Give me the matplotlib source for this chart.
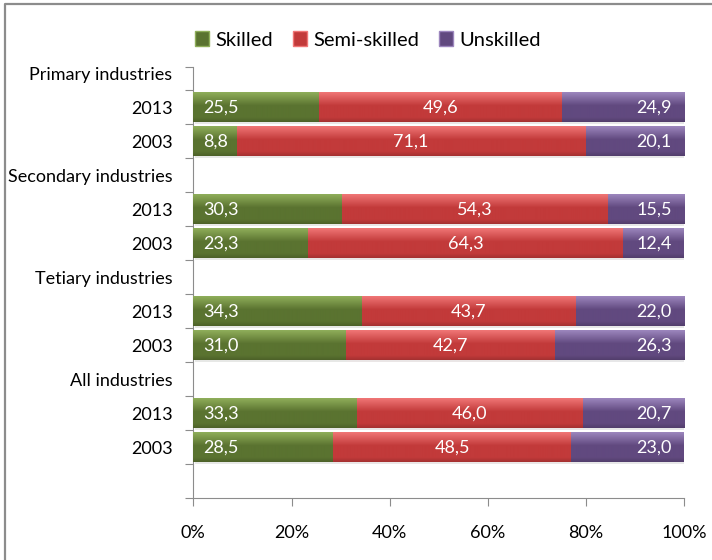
import matplotlib.pyplot as plt
import numpy as np
from matplotlib.patches import Patch
from matplotlib.lines import Line2D
from matplotlib import patheffects as pe
from matplotlib.colors import to_rgb

# rows from top to bottom, headers have no bars, last row is empty
row_labels = ['Primary industries', '2013', '2003',
              'Secondary industries', '2013', '2003',
              'Tetiary industries', '2013', '2003',
              'All industries', '2013', '2003', '']
bar_rows = [1, 2, 4, 5, 7, 8, 10, 11]

series = ['Skilled', 'Semi-skilled', 'Unskilled']
skilled = [25.5, 8.8, 30.3, 23.3, 34.3, 31.0, 33.3, 28.5]
semi_skilled = [49.6, 71.1, 54.3, 64.3, 43.7, 42.7, 46.0, 48.5]
unskilled = [24.9, 20.1, 15.5, 12.4, 22.0, 26.3, 20.7, 23.0]

colors = ['#5a7330', '#c23a3a', '#61497f']
tops = ['#8fae5a', '#f07676', '#9c86bd']

plt.rcParams['font.family'] = ['Lato', 'DejaVu Sans']

fig = plt.figure(figsize=(7.12, 5.6), dpi=100)
W, H = 712, 560
ax = fig.add_axes([193.3 / W, 1 - 498.3 / H, 491 / W, 431.6 / H])

# outer chart border (only left and top are inside the picture)
fig.lines.append(Line2D([5 / W, 5 / W, 1.0], [0.0, 1 - 4 / H, 1 - 4 / H],
                        transform=fig.transFigure, color='#8c8c8c', linewidth=1.6))

data = np.array([skilled, semi_skilled, unskilled])
pct = data / data.sum(axis=0) * 100
ypos = np.array(bar_rows)
bar_h = 0.88


def grad_fill(patch, base, top):
    # lighter top, flat middle, slightly darker bottom edge
    b = np.array(to_rgb(base))
    t = np.array(to_rgb(top))
    dark = b * 0.85
    s = np.linspace(0, 1, 60)
    cols = []
    for v in s:
        if v < 0.45:
            c = t + (b - t) * (v / 0.45)
        elif v < 0.85:
            c = b
        else:
            c = b + (dark - b) * ((v - 0.85) / 0.15)
        cols.append(c)
    img = np.array(cols).reshape(-1, 1, 3)
    x0, y0 = patch.get_x(), patch.get_y()
    w, h = patch.get_width(), patch.get_height()
    im = ax.imshow(img, extent=(x0, x0 + w, y0 + h, y0), origin='upper',
                   aspect='auto', interpolation='bilinear', zorder=3)
    im.set_clip_path(patch)


left = np.zeros(len(ypos))
for i, name in enumerate(series):
    bars = ax.barh(ypos, pct[i], left=left, height=bar_h, color=colors[i],
                   edgecolor='none', zorder=2, label=name)
    for p in bars:
        p.set_path_effects([pe.SimplePatchShadow(offset=(1, -1.5), alpha=0.1), pe.Normal()])
        grad_fill(p, colors[i], tops[i])
    for j, p in enumerate(bars):
        txt = f'{data[i][j]:.1f}'.replace('.', ',')
        yc = p.get_y() + p.get_height() / 2
        if i == 0:
            ax.annotate(txt, (p.get_x(), yc), xytext=(7, 0), textcoords='offset points',
                        ha='left', va='center', color='white', fontsize=13, zorder=5)
        elif i == 1:
            ax.text(p.get_x() + p.get_width() / 2, yc, txt, ha='center', va='center',
                    color='white', fontsize=13, zorder=5)
        else:
            ax.annotate(txt, (p.get_x() + p.get_width(), yc), xytext=(-9, 0),
                        textcoords='offset points', ha='right', va='center',
                        color='white', fontsize=13, zorder=5)
    left = left + pct[i]

n = len(row_labels)
ax.set_xlim(0, 100)
ax.set_ylim(n - 0.5, n - 0.5 - 431.6 / 34)

ax.set_xticks(np.arange(0, 101, 20))
ax.set_xticklabels([f'{v}%' for v in range(0, 101, 20)], fontsize=13)
ax.tick_params(axis='x', length=6, color='#8c8c8c', pad=13)

ax.set_yticks(list(np.arange(0.5, n - 1, 1.0)) + [ax.get_ylim()[1], n - 0.5])
ax.set_yticklabels([])
ax.set_yticks(np.arange(n), minor=True)
ax.set_yticklabels(row_labels, minor=True, fontsize=13)
ax.tick_params(axis='y', which='major', length=6, color='#8c8c8c')
ax.tick_params(axis='y', which='minor', length=0, pad=15)

for s in ['top', 'right']:
    ax.spines[s].set_visible(False)
for s in ['left', 'bottom']:
    ax.spines[s].set_color('#8c8c8c')

handles = [Patch(facecolor=colors[i], edgecolor=tops[i]) for i in range(3)]
fig.legend(handles, series, loc='center', bbox_to_anchor=(368 / W, 1 - 40 / H), ncol=3,
           frameon=False, fontsize=14.5, handlelength=0.7, handleheight=0.7,
           handletextpad=0.3, columnspacing=1.0)

fig.savefig('out.png', dpi=100)
